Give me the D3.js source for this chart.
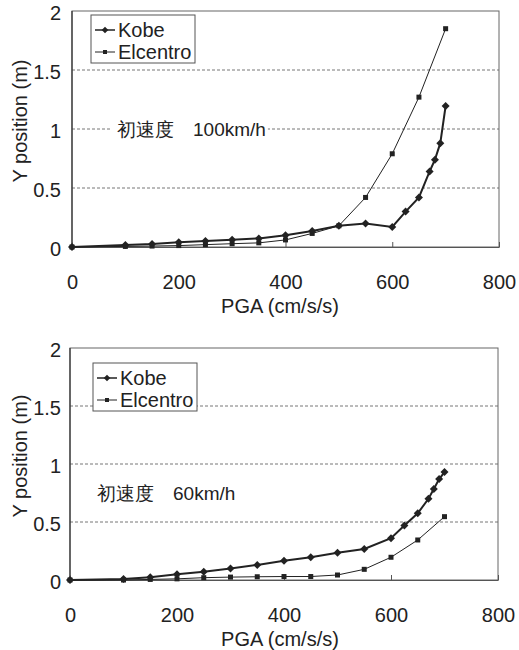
<!DOCTYPE html>
<html>
<head>
<meta charset="utf-8">
<script src="https://cdn.jsdelivr.net/npm/d3@7"></script>
<style>
  body { margin: 0; background: #fff; }
  text { font-family: "Liberation Sans", Arial, sans-serif; fill: #222; }
</style>
</head>
<body>
<svg id="chart" width="519" height="650"></svg>
<script>
// PGA levels (cm/s/s)
const pgaKobe = [0, 100, 150, 200, 250, 300, 350, 400, 450, 500, 550, 600, 625, 650, 670, 680, 690, 700];
const pgaElcentro = [0, 100, 150, 200, 250, 300, 350, 400, 450, 500, 550, 600, 650, 700];

// Y position (m), initial speed 100 km/h
const kobe100 = [0, 0.018, 0.025, 0.04, 0.05, 0.062, 0.073, 0.10, 0.135, 0.18, 0.20, 0.17, 0.30, 0.42, 0.64, 0.74, 0.88, 1.195];
const elcentro100 = [0, 0.005, 0.008, 0.012, 0.02, 0.028, 0.035, 0.06, 0.115, 0.18, 0.42, 0.79, 1.27, 1.85];

// Y position (m), initial speed 60 km/h
const kobe60 = [0, 0.008, 0.023, 0.049, 0.072, 0.10, 0.13, 0.166, 0.196, 0.235, 0.267, 0.36, 0.47, 0.575, 0.70, 0.785, 0.87, 0.93];
const elcentro60 = [0, 0, 0.005, 0.01, 0.02, 0.025, 0.028, 0.03, 0.03, 0.043, 0.092, 0.196, 0.345, 0.546];

const xTicks = [0, 200, 400, 600, 800];
const yTicks = [0, 0.5, 1, 1.5, 2];
const seriesNames = ["Kobe", "Elcentro"];

const svg = d3.select("#chart");
const ink = "#222";
const latin = "Liberation Sans, Arial, sans-serif";

function drawChart(box, kobe, elcentro, note, legendBox) {
    const x = d3.scaleLinear().domain([0, 800]).range([box.left, box.right]);
    const y = d3.scaleLinear().domain([0, 2]).range([box.bottom, box.top]);
    const g = svg.append("g");

    // dashed gridlines
    g.selectAll(".grid")
        .data(yTicks.filter(d => d > 0 && d < 2))
        .enter().append("line")
        .attr("x1", box.left).attr("x2", box.right)
        .attr("y1", d => y(d)).attr("y2", d => y(d))
        .attr("stroke", "#777").attr("stroke-width", 1)
        .attr("stroke-dasharray", "3,2");

    // frame
    g.append("rect")
        .attr("x", box.left).attr("y", box.top)
        .attr("width", box.right - box.left).attr("height", box.bottom - box.top)
        .attr("fill", "none").attr("stroke", "#666").attr("stroke-width", 1);
    g.append("line")
        .attr("x1", box.left).attr("x2", box.left)
        .attr("y1", box.top).attr("y2", box.bottom)
        .attr("stroke", "#333").attr("stroke-width", 1.2);

    // axes
    const xAxis = d3.axisBottom(x).tickValues(xTicks).tickSizeInner(-5).tickSizeOuter(0).tickPadding(28);
    g.append("g")
        .attr("transform", `translate(0,${box.bottom})`)
        .call(xAxis)
        .call(a => a.select(".domain").attr("stroke", "#555"))
        .call(a => a.selectAll(".tick line").attr("stroke", "#555"))
        .call(a => a.selectAll("text").attr("font-size", 20).attr("fill", ink)
            .attr("font-family", latin));

    const yAxis = d3.axisLeft(y).tickValues(yTicks).tickSize(0).tickPadding(box.yPad)
        .tickFormat(d3.format("~g"));
    g.append("g")
        .attr("transform", `translate(${box.left},2)`)
        .call(yAxis)
        .call(a => a.select(".domain").remove())
        .call(a => a.selectAll("text").attr("font-size", 20).attr("fill", ink)
            .attr("font-family", latin));

    // axis titles
    g.append("text")
        .attr("x", 280)
        .attr("y", box.bottom + 66)
        .attr("text-anchor", "middle")
        .attr("font-size", 20)
        .text("PGA (cm/s/s)");
    g.append("text")
        .attr("transform", `translate(27,${(box.top + box.bottom) / 2 - 8}) rotate(-90)`)
        .attr("text-anchor", "middle")
        .attr("font-size", 20)
        .text("Y position (m)");

    // annotation with white background
    const noteText = g.append("text")
        .attr("x", note.x)
        .attr("y", y(note.yv) + 7)
        .attr("font-size", 19)
        .attr("font-family", "'Noto Sans CJK JP', sans-serif")
        .text(note.label);
    const bb = noteText.node().getBBox();
    g.insert("rect", () => noteText.node())
        .attr("x", bb.x - 6).attr("y", bb.y)
        .attr("width", bb.width + 8).attr("height", bb.height)
        .attr("fill", "#fff");

    // lines
    const line = d3.line().x(d => x(d[0])).y(d => y(d[1]));
    const kobePts = pgaKobe.map((p, i) => [p, kobe[i]]);
    const elcPts = pgaElcentro.map((p, i) => [p, elcentro[i]]);

    g.append("path").datum(elcPts).attr("d", line)
        .attr("fill", "none").attr("stroke", ink).attr("stroke-width", 1);
    g.selectAll(".sq").data(elcPts).enter().append("rect")
        .attr("x", d => x(d[0]) - 2.5).attr("y", d => y(d[1]) - 2.5)
        .attr("width", 5).attr("height", 5).attr("fill", ink);

    g.append("path").datum(kobePts).attr("d", line)
        .attr("fill", "none").attr("stroke", ink).attr("stroke-width", 2);
    g.selectAll(".dm").data(kobePts).enter().append("path")
        .attr("transform", d => `translate(${x(d[0])},${y(d[1])}) rotate(45)`)
        .attr("d", d3.symbol().type(d3.symbolSquare).size(32))
        .attr("fill", ink);

    // legend
    const lg = g.append("g");
    lg.append("rect")
        .attr("x", legendBox.x).attr("y", legendBox.y)
        .attr("width", legendBox.w).attr("height", legendBox.h)
        .attr("fill", "#fff").attr("stroke", "#555").attr("stroke-width", 1);
    seriesNames.forEach((name, i) => {
        const cy = legendBox.y + 15 + i * 22;
        const x0 = legendBox.x + 4, x1 = legendBox.x + 24;
        lg.append("line").attr("x1", x0).attr("x2", x1).attr("y1", cy).attr("y2", cy)
            .attr("stroke", ink).attr("stroke-width", i === 0 ? 1.5 : 1);
        if (i === 0) {
            lg.append("path")
                .attr("transform", `translate(${(x0 + x1) / 2},${cy}) rotate(45)`)
                .attr("d", d3.symbol().type(d3.symbolSquare).size(22))
                .attr("fill", ink);
        } else {
            lg.append("rect").attr("x", (x0 + x1) / 2 - 2).attr("y", cy - 2)
                .attr("width", 4).attr("height", 4).attr("fill", ink);
        }
        lg.append("text")
            .attr("x", x1 + 3).attr("y", cy + 7)
            .attr("font-size", 20)
            .text(name);
    });
}

drawChart({left: 72, right: 499, top: 11, bottom: 247, yPad: 11}, kobe100, elcentro100,
    {label: "初速度　100km/h", yv: 1, x: 117}, {x: 91, y: 15, w: 104, h: 48});
drawChart({left: 70, right: 498, top: 348, bottom: 580, yPad: 9}, kobe60, elcentro60,
    {label: "初速度　60km/h", yv: 0.75, x: 97}, {x: 93, y: 363, w: 104, h: 48});
</script>
</body>
</html>
